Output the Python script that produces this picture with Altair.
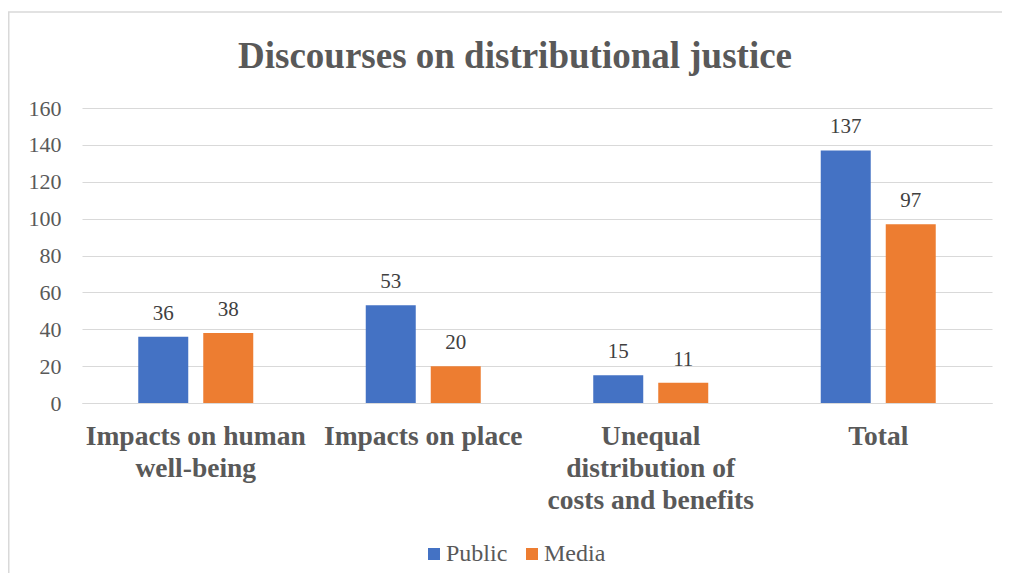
import altair as alt
import pandas as pd

categories = ["Impacts on human well-being", "Impacts on place",
              "Unequal distribution of costs and benefits", "Total"]
label_lines = [["Impacts on human", "well-being"], ["Impacts on place"],
               ["Unequal", "distribution of", "costs and benefits"], ["Total"]]
series = ["Public", "Media"]
public_vals = [36, 53, 15, 137]
media_vals = [38, 20, 11, 97]
colors = ["#4472C4", "#ED7D31"]
y_ticks = [0, 20, 40, 60, 80, 100, 120, 140, 160]

rows = []
for c, p, m in zip(categories, public_vals, media_vals):
    rows.append({"category": c, "series": "Public", "value": p})
    rows.append({"category": c, "series": "Media", "value": m})
df = pd.DataFrame(rows)

# label expression for multi-line x labels
expr = "datum.label"
for c, lines in reversed(list(zip(categories, label_lines))):
    arr = "[" + ",".join("'" + l + "'" for l in lines) + "]"
    expr = f"datum.label == '{c}' ? {arr} : ({expr})"

FONT = "Liberation Serif, Times New Roman, serif"

x = alt.X("category:N", sort=categories, title=None,
          scale=alt.Scale(paddingInner=0.4945, paddingOuter=0.2473),
          axis=alt.Axis(labelExpr=expr, labelAngle=0, labelFontWeight="bold",
                        labelFontSize=27.5, labelColor="#595959", labelFont=FONT,
                        labelPadding=19, labelLineHeight=32, ticks=False,
                        labelLimit=400, labelOverlap=False,
                        domainColor="#d9d9d9", labelBaseline="top"))
xo = alt.XOffset("series:N", sort=series,
                 scale=alt.Scale(paddingInner=0.2308, paddingOuter=0))
y = alt.Y("value:Q", title=None,
          scale=alt.Scale(domain=[0, 160], nice=False),
          axis=alt.Axis(values=y_ticks, labelFontSize=22, labelOverlap=False,
                        labelColor="#595959", labelFont=FONT, labelPadding=21,
                        ticks=False, domain=False, gridColor="#d9d9d9"))

base = alt.Chart(df)
bars = base.mark_bar().encode(
    x=x, xOffset=xo, y=y,
    color=alt.Color("series:N", sort=series,
                    scale=alt.Scale(domain=series, range=colors),
                    legend=alt.Legend(title=None, orient="none", legendX=340,
                                      legendY=434, direction="horizontal",
                                      symbolType="square", symbolSize=144,
                                      labelFontSize=24, labelFont=FONT,
                                      labelColor="#595959", columnPadding=12,
                                      labelOffset=0, symbolStrokeWidth=0))
)
labels = base.mark_text(fontSize=21, font=FONT, color="#404040",
                        baseline="alphabetic", dy=-17).encode(
    x=x, xOffset=xo, y=y, text="value:Q"
)

frame_df = pd.DataFrame({"k": [0]})
frame_top = alt.Chart(frame_df).mark_rule(color="#d9d9d9", strokeWidth=1.5).encode(
    x=alt.value(-74), x2=alt.value(930), y=alt.value(-96))
frame_left = alt.Chart(frame_df).mark_rule(color="#d9d9d9", strokeWidth=2).encode(
    x=alt.value(-73.5), y=alt.value(-96), y2=alt.value(480))

chart = alt.layer(frame_top, frame_left, bars, labels).properties(
    width=910, height=295,
    autosize=alt.AutoSizeParams(type="none"),
    padding={"left": 74, "top": 100, "right": 10, "bottom": 170},
    title=alt.TitleParams("Discourses on distributional justice", font=FONT,
                          fontSize=37, fontWeight="bold", color="#595959",
                          anchor="middle", offset=0, dx=-22, dy=65),
).configure_view(stroke=None)

chart.save("out.html", embed_options={"renderer": "svg", "actions": False})
